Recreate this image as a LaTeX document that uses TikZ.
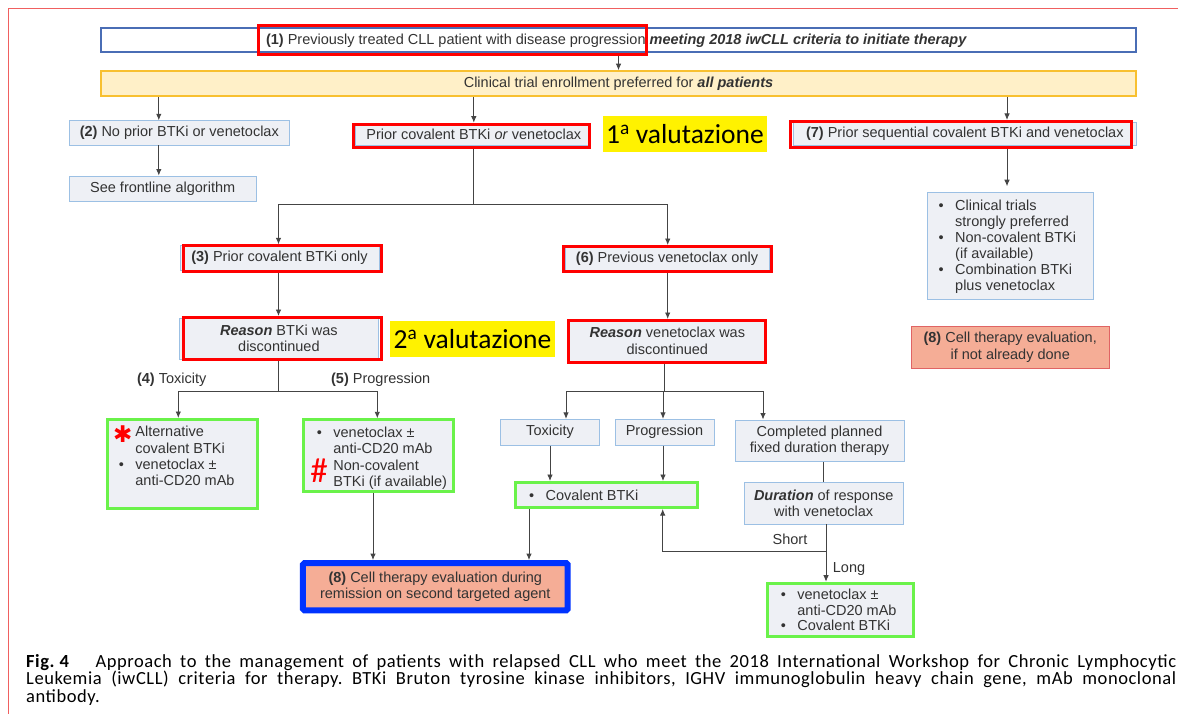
\documentclass[tikz,border=0pt]{standalone}
\usepackage{fontspec}
\setmainfont{Liberation Sans}
\newfontfamily\capfont{Carlito}
\newfontfamily\capwide{Carlito}[LetterSpace=3]
\newfontfamily\symfont{DejaVu Sans}
\usetikzlibrary{arrows.meta,calc}
\definecolor{txt}{HTML}{333333}
\definecolor{boxfill}{HTML}{EEF0F5}
\definecolor{boxline}{HTML}{9CC0E4}
\definecolor{blueline}{HTML}{4A6DB5}
\definecolor{yelfill}{HTML}{FFF0C8}
\definecolor{yelline}{HTML}{F8C030}
\definecolor{hlred}{HTML}{FF0000}
\definecolor{hlgreen}{HTML}{6AF24A}
\definecolor{salmon}{HTML}{F5AD96}
\definecolor{salline}{HTML}{E06464}
\definecolor{bigblue}{HTML}{0033FF}
\definecolor{framered}{HTML}{F06060}
\definecolor{conn}{HTML}{444444}
\newcommand\bu{\makebox[16.5pt][l]{•}}
\newcommand\bi{\hspace*{16.5pt}}
\frenchspacing
\begin{document}
\begin{tikzpicture}[x=1pt,y=-1pt,
  every node/.style={text=txt},
  base/.style={font=\fontsize{14.5}{16.3}\selectfont, inner sep=0pt, align=center},
  box/.style={base, draw=boxline, line width=0.9pt, fill=boxfill},
  gbox/.style={base, draw=hlgreen, line width=3pt, fill=boxfill},
  sbox/.style={base, draw=salline, line width=0.9pt, fill=salmon},
  hl/.style={draw=hlred, line width=3pt, inner sep=0pt},
  ylw/.style={fill=yellow, inner sep=0pt, font=\capfont\fontsize{27.5}{27.5}\selectfont, text=black},
  btxt/.style={base, align=left, anchor=north west},
  lbl/.style={base},
  captxt/.style={font=\capwide\fontsize{18.5}{18.5}\selectfont, text=black, inner sep=0pt, anchor=base west},
  conn/.style={draw=conn, line width=0.9pt},
  arr/.style={conn, -{Latex[length=6.5pt,width=5.5pt]}},
]
\useasboundingbox (0,0) rectangle (1178,714);
\fill[white] (0,0) rectangle (1178,714);
\draw[framered, line width=1pt] (8,714) -- (8,8.5) -- (1178,8.5);

% top boxes
\node[base, draw=blueline, line width=2pt, fill=white, minimum width=1035pt, minimum height=24pt] (b1) at (618.5,40) {};
\node[base] (b1t) at (616.5,40.5) {\textbf{(1)} Previously treated CLL patient with disease progression \textbf{\textit{meeting 2018 iwCLL criteria to initiate therapy}}};
\node[hl, minimum width=388pt, minimum height=29pt] (b1r) at (452.9,40) {};
\node[base, draw=yelline, line width=2pt, fill=yelfill, minimum width=1035pt, minimum height=25pt] (yl) at (618.5,83.7) {Clinical trial enrollment preferred for \textbf{\textit{all patients}}};

% level 2
\node[box, minimum width=220pt, minimum height=24.3pt] (b2) at (179.3,132.9) {\textbf{(2)} No prior BTKi or venetoclax};
\node[box, minimum width=187.4pt, minimum height=25pt] (fr) at (162.7,188.5) {See frontline algorithm};
\node[box, minimum width=233.6pt, minimum height=21.3pt] (pc) at (471.8,134.6) {\hspace*{4pt}Prior covalent BTKi \textit{or} venetoclax};
\node[hl, minimum width=236.3pt, minimum height=23pt] (pcr) at (471.7,135.7) {};
\node[ylw, minimum width=164pt, minimum height=35.7pt] (v1) at (684.9,133.9) {1\textsuperscript{a} valutazione};
\node[box, minimum width=342.4pt, minimum height=22.3pt] (b7) at (964.8,133.9) {\textbf{(7)} Prior sequential covalent BTKi and venetoclax};
\node[hl, minimum width=341pt, minimum height=25.7pt] (b7r) at (961,134.3) {};

% right column
\node[box, minimum width=165.2pt, minimum height=106.6pt] (ct) at (1010.4,246) {};
\node[btxt, font=\fontsize{14.5}{15.9}\selectfont] (ctt) at (938.5,200.1) {\bu Clinical trials\\\bi strongly preferred\\\bu Non-covalent BTKi\\\bi (if available)\\\bu Combination BTKi\\\bi plus venetoclax};
\node[sbox, minimum width=198.3pt, minimum height=42.3pt] (c8a) at (1010.2,347.2) {\textbf{(8)} Cell therapy evaluation,\\if not already done};

% level 3
\node[box, minimum width=198.9pt, minimum height=25.4pt] (b3) at (279.5,258) {\textbf{(3)} Prior covalent BTKi only};
\node[hl, minimum width=198pt, minimum height=25.4pt] (b3r) at (282.2,258.5) {};
\node[box, minimum width=204pt, minimum height=24pt] (b6) at (667,259) {\textbf{(6)} Previous venetoclax only};
\node[hl, minimum width=207.6pt, minimum height=25.3pt] (b6r) at (667.3,259.2) {};

% reason boxes
\node[box, minimum width=199.7pt, minimum height=41pt] (rb) at (278.9,338.5) {\textbf{\textit{Reason}} BTKi was\\discontinued};
\node[hl, minimum width=198pt, minimum height=42pt] (rbr) at (282.2,338.5) {};
\node[ylw, minimum width=165pt, minimum height=36pt] (v2) at (472.5,338.7) {2\textsuperscript{a} valutazione};
\node[box, minimum width=196pt, minimum height=40.3pt] (rv) at (667.3,340.8) {\textbf{\textit{Reason}} venetoclax was\\discontinued};
\node[hl, minimum width=197.6pt, minimum height=42pt] (rvr) at (667,341.5) {};

% labels
\node[lbl] (l4) at (171.7,380) {\textbf{(4)} Toxicity};
\node[lbl] (l5) at (380.7,380) {\textbf{(5)} Progression};

% green boxes left
\node[gbox, minimum width=150pt, minimum height=89pt] (g1) at (182,464) {};
\node[btxt] (g1t) at (118.7,426.1) {\bi Alternative\\\bi covalent BTKi\\\bu venetoclax ±\\\bi anti-CD20 mAb};
\node[text=red, inner sep=0pt, font=\symfont\fontsize{23}{23}\selectfont] (ast) at (122.7,434) {✱};
\node[gbox, minimum width=150pt, minimum height=72pt] (g2) at (378.7,455.8) {};
\node[btxt] (g2t) at (316.7,426.7) {\bu venetoclax ±\\\bi anti-CD20 mAb\\\bi Non-covalent\\\bi BTKi (if available)};
\node[text=red, inner sep=0pt, font=\capfont\fontsize{35}{35}\selectfont] (hash) at (319,470.5) {\#};

% venetoclax branch
\node[box, minimum width=98.3pt, minimum height=25.7pt] (tox) at (550,432.2) {Toxicity};
\node[box, minimum width=99pt, minimum height=25.7pt] (prog) at (664.5,432.2) {Progression};
\node[box, minimum width=169pt, minimum height=41.7pt] (comp) at (819.5,440.8) {Completed planned\\fixed duration therapy};
\node[gbox, minimum width=182pt, minimum height=25pt] (cov) at (606.5,495) {};
\node[base, anchor=west] (covt) at (529,495) {\bu Covalent BTKi};
\node[box, minimum width=159.3pt, minimum height=41.3pt] (dur) at (823.7,503.3) {\textbf{\textit{Duration}} of response\\with venetoclax};
\node[lbl] (ls) at (790,539) {Short};
\node[lbl] (ll) at (849,569.3) {Long};
\node[gbox, minimum width=146pt, minimum height=53.6pt] (g3) at (840,610) {};
\node[btxt, font=\fontsize{14.5}{15.5}\selectfont] (g3t) at (780.7,589.1) {\bu venetoclax ±\\\bi anti-CD20 mAb\\\bu Covalent BTKi};

% bottom cell therapy
\node[sbox, draw=bigblue, line width=6pt, rounded corners=1.5pt, minimum width=264.7pt, minimum height=47.3pt] (cell) at (435.3,586.7) {\textbf{(8)} Cell therapy evaluation during\\remission on second targeted agent};

% lanes
\coordinate (xa) at (158.8,0);
\coordinate (xb) at (473.8,0);
\coordinate (x7) at (1007,0);
\coordinate (xb3) at (278.5,0);
\coordinate (xb6) at (667.7,0);
\coordinate (xg1) at (178.3,0);
\coordinate (xg2) at (377.3,0);
\coordinate (xt1) at (566,0);
\coordinate (xp) at (663,0);
\coordinate (xc) at (763,0);
\coordinate (xd) at (823.3,0);
\coordinate (xe) at (826,0);
\coordinate (xs) at (662.7,0);
\coordinate (xc1) at (373,0);
\coordinate (xc2) at (529,0);
\coordinate (s1) at (473.8,204.3);
\coordinate (s2) at (278.3,391.7);
\coordinate (s3) at (664.3,391.7);
\coordinate (sh) at (826,551.7);

% connectors
\draw[arr] (b1r.south -| yl.north) -- (yl.north);
\draw[arr] (yl.south -| xa) -- (b2.north -| xa);
\draw[arr] (yl.south -| xb) -- (pcr.north -| xb);
\draw[arr] (yl.south -| x7) -- (b7r.north -| x7);
\draw[arr] (b2.south -| xa) -- (fr.north -| xa);
\draw[arr, shorten >=6pt] (b7r.south -| x7) -- (ct.north -| x7);
\draw[conn] (pcr.south -| s1) -- (s1);
\draw[arr] (s1) -| (b3r.north -| xb3);
\draw[arr] (s1) -| (b6r.north -| xb6);
\draw[arr] (b3r.south -| xb3) -- (rbr.north -| xb3);
\draw[arr] (b6r.south -| xb6) -- (rvr.north -| xb6);
\draw[conn] (rbr.south -| s2) -- (s2);
\draw[arr] (s2) -| (g1.north -| xg1);
\draw[arr] (s2) -| (g2.north -| xg2);
\draw[conn] (rvr.south -| s3) -- (s3);
\draw[arr] (s3) -| (tox.north -| xt1);
\draw[arr] (s3) -| (prog.north -| xp);
\draw[arr] (s3) -| (comp.north -| xc);
\draw[arr] (tox.south) -- (cov.north -| tox.south);
\draw[arr] (prog.south -| xp) -- (cov.north -| xp);
\draw[conn] (comp.south -| xd) -- (dur.north -| xd);
\draw[arr] (dur.south -| xe) -- (g3.north -| xe);
\draw[arr] (sh) -| (cov.south -| xs);
\draw[arr] (g2.south -| xc1) -- (cell.north -| xc1);
\draw[arr] (cov.south -| xc2) -- (cell.north -| xc2);

% caption
\node[captxt] (c1) at (26,667) {\makebox[1150pt][s]{\textbf{Fig.}\hspace{4.5pt}\textbf{4}\hspace{26pt}Approach to the management of patients with relapsed CLL who meet the 2018 International Workshop for Chronic Lymphocytic}};
\node[captxt] (c2) at (26,684.5) {\makebox[1150pt][s]{Leukemia (iwCLL) criteria for therapy. BTKi Bruton tyrosine kinase inhibitors, IGHV immunoglobulin heavy chain gene, mAb monoclonal}};
\node[captxt] (c3) at (26,702) {antibody.};
\end{tikzpicture}
\end{document}
